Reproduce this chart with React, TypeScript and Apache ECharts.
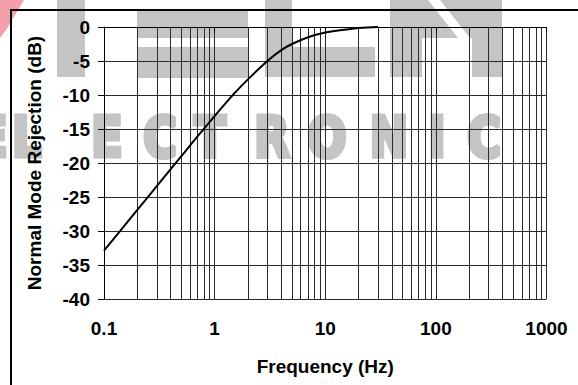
import React, { useEffect, useRef } from "react";
import * as echarts from "echarts";

// Frequency (Hz)
const freqs = [0.1, 0.15, 0.2, 0.3, 0.5, 0.7, 1, 1.5, 2, 3, 4, 5, 7, 10, 15, 20, 30];
// Normal mode rejection (dB)
const rejection = [-32.9, -29.4, -26.9, -23.4, -19.0, -16.1, -13.1, -9.8, -7.7, -5.0, -3.4, -2.5, -1.5, -0.8, -0.4, -0.15, 0];
// minor log grid lines
const minorGrid = [
  0.2, 0.3, 0.4, 0.5, 0.6, 0.7, 0.8, 0.9,
  2, 3, 4, 5, 6, 7, 8, 9,
  20, 30, 40, 50, 60, 70, 80, 90,
  200, 300, 400, 500, 600, 700, 800, 900,
];
const xLabels = ["0.1", "1", "10", "100", "1000"];
const yTicks = [0, -5, -10, -15, -20, -25, -30, -35, -40];

// watermark letters and their centre x
const wmLetters = ["E", "L", "E", "C", "T", "R", "O", "N", "I", "C"];
const wmX = [-8, 27, 107, 160, 210, 272, 327, 389, 437, 484];

const FONT = "Liberation Sans, Arial, Helvetica, sans-serif";
const GRAY = "#c4c4c4";

export default function App() {
  const ref = useRef<HTMLDivElement>(null);
  useEffect(() => {
    if (!ref.current) return;
    const chart = echarts.init(ref.current, null, { renderer: "svg" });
    const gridColor = "#2a2a2a";
    const labelStyle = { fontSize: 19, fontWeight: "bold" as const, color: "#000", fontFamily: FONT };

    const wm: any[] = [
      { type: "rect", z: -10, shape: { x: 57, y: 0, width: 28, height: 77 }, style: { fill: GRAY } },
      { type: "rect", z: -10, shape: { x: 137, y: 11, width: 111, height: 27 }, style: { fill: GRAY } },
      { type: "rect", z: -10, shape: { x: 137, y: 47, width: 111, height: 31 }, style: { fill: GRAY } },
      { type: "rect", z: -10, shape: { x: 265, y: 0, width: 27, height: 77 }, style: { fill: GRAY } },
      { type: "rect", z: -10, shape: { x: 265, y: 47, width: 110, height: 30 }, style: { fill: GRAY } },
      { type: "rect", z: -10, shape: { x: 390, y: 0, width: 112, height: 38 }, style: { fill: GRAY } },
      { type: "rect", z: -10, shape: { x: 390, y: 38, width: 32, height: 39 }, style: { fill: GRAY } },
      { type: "rect", z: -10, shape: { x: 472, y: 38, width: 30, height: 39 }, style: { fill: GRAY } },
      { type: "polygon", z: -9, shape: { points: [[428, 0], [440, 0], [470, 38], [458, 38]] }, style: { fill: "#fff" } },
      { type: "polygon", z: -9, shape: { points: [[0, 0], [24, 0], [6, 30], [0, 38]] }, style: { fill: "#f3a0aa" } },
      ...wmLetters.map((t, i) => ({
        type: "text",
        z: -10,
        x: wmX[i],
        y: 136,
        scaleX: 0.82,
        style: {
          text: t,
          fill: GRAY,
          stroke: GRAY,
          lineWidth: 5,
          fontSize: 56,
          fontWeight: 900,
          fontFamily: "DejaVu Sans",
          align: "center",
          verticalAlign: "middle",
        },
      })),
      {
        type: "rect",
        z: 100,
        shape: { x: 11, y: 10, width: 700, height: 500 },
        style: { fill: "none", stroke: "#000", lineWidth: 2 },
      },
    ];

    chart.setOption({
      animation: false,
      backgroundColor: "#fff",
      graphic: wm,
      grid: { left: 104, right: 31.5, top: 27, bottom: 86, containLabel: false },
      xAxis: {
        type: "log",
        logBase: 10,
        min: 0.1,
        max: 1000,
        name: "Frequency (Hz)",
        nameLocation: "middle",
        nameGap: 58,
        nameTextStyle: labelStyle,
        axisLine: { show: true, lineStyle: { color: "#000", width: 1 } },
        axisTick: { show: true, length: 6, lineStyle: { color: "#000" } },
        axisLabel: {
          ...labelStyle,
          margin: 20,
          formatter: (v: number) => {
            const i = Math.round(Math.log10(v)) + 1;
            return xLabels[i] ?? String(v);
          },
        },
        splitLine: { show: true, lineStyle: { color: gridColor, width: 1 } },
      },
      yAxis: {
        type: "value",
        min: yTicks[yTicks.length - 1],
        max: yTicks[0],
        interval: 5,
        name: "Normal Mode Rejection (dB)",
        nameLocation: "middle",
        nameGap: 60,
        nameTextStyle: labelStyle,
        axisLine: { show: true, lineStyle: { color: "#000", width: 1 } },
        axisTick: { show: true, length: 6, lineStyle: { color: "#000" } },
        axisLabel: { ...labelStyle, margin: 14 },
        splitLine: { show: true, lineStyle: { color: gridColor, width: 1 } },
      },
      series: [
        {
          type: "line",
          z: 1,
          data: [],
          silent: true,
          markLine: {
            silent: true,
            symbol: ["none", "none"],
            label: { show: false },
            lineStyle: { type: "solid", color: gridColor, width: 1 },
            data: minorGrid.map((f) => ({ xAxis: f })),
          },
        },
        {
          type: "line",
          z: 5,
          data: freqs.map((f, i) => [f, rejection[i]]),
          smooth: 0.4,
          showSymbol: false,
          symbol: "none",
          lineStyle: { color: "#000", width: 2 },
        },
      ],
    });
    return () => chart.dispose();
  }, []);
  return (
    <div
      ref={ref}
      style={{ position: "fixed", left: 0, top: 0, width: 578, height: 385, background: "#fff" }}
    />
  );
}
